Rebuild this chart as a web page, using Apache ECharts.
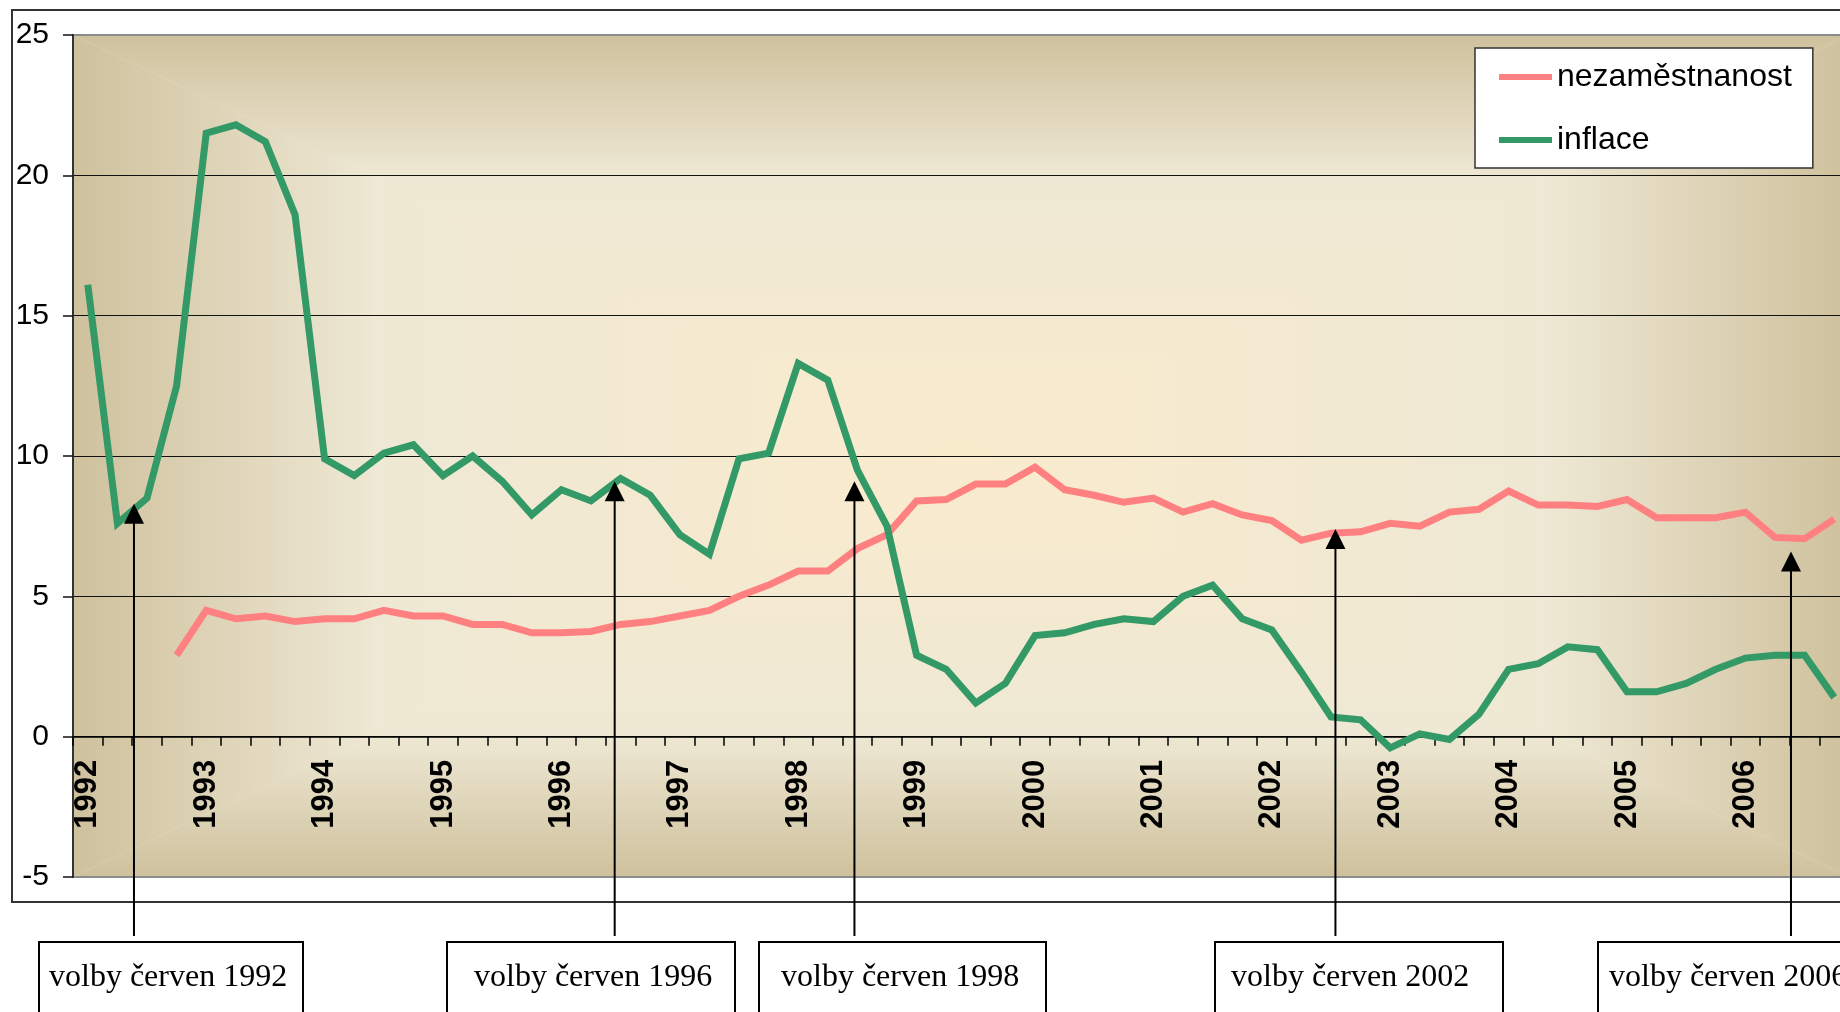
<!DOCTYPE html>
<html>
<head>
<meta charset="utf-8">
<title>nezaměstnanost a inflace</title>
<script src="https://cdn.jsdelivr.net/npm/echarts@6/dist/echarts.min.js"></script>
<style>
  html, body { margin: 0; padding: 0; background: #fff; overflow: hidden; }
  #chart { width: 1900px; height: 1012px; }
</style>
</head>
<body>
<div id="chart"></div>
<script>
  // roky a čtvrtletí na ose x
  const years = [1992, 1993, 1994, 1995, 1996, 1997, 1998, 1999, 2000, 2001, 2002, 2003, 2004, 2005, 2006];
  const quarters = ['Q1', 'Q2', 'Q3', 'Q4'];
  const categories = [];
  years.forEach(y => quarters.forEach(q => categories.push(y + ' ' + q)));

  // míra nezaměstnanosti (%), čtvrtletně
  const nezamestnanost = [
    null, null, null, 2.9,
    4.5, 4.2, 4.3, 4.1,
    4.2, 4.2, 4.5, 4.3,
    4.3, 4.0, 4.0, 3.7,
    3.7, 3.75, 4.0, 4.1,
    4.3, 4.5, 5.0, 5.4,
    5.9, 5.9, 6.7, 7.2,
    8.4, 8.45, 9.0, 9.0,
    9.6, 8.8, 8.6, 8.35,
    8.5, 8.0, 8.3, 7.9,
    7.7, 7.0, 7.25, 7.3,
    7.6, 7.5, 8.0, 8.1,
    8.75, 8.25, 8.25, 8.2,
    8.45, 7.8, 7.8, 7.8,
    8.0, 7.1, 7.05, 7.75
  ];

  // inflace (%), čtvrtletně
  const inflace = [
    16.1, 7.6, 8.5, 12.5,
    21.5, 21.8, 21.2, 18.6,
    9.9, 9.3, 10.1, 10.4,
    9.3, 10.0, 9.1, 7.9,
    8.8, 8.4, 9.2, 8.6,
    7.2, 6.5, 9.9, 10.1,
    13.3, 12.7, 9.5, 7.5,
    2.9, 2.4, 1.2, 1.9,
    3.6, 3.7, 4.0, 4.2,
    4.1, 5.0, 5.4, 4.2,
    3.8, 2.3, 0.7, 0.6,
    -0.4, 0.1, -0.1, 0.8,
    2.4, 2.6, 3.2, 3.1,
    1.6, 1.6, 1.9, 2.4,
    2.8, 2.9, 2.9, 1.4
  ];

  // osa y
  const yMin = -5, yMax = 25, yStep = 5;

  // volby: popisek, poloha na ose (index čtvrtletí) a hodnota hrotu šipky
  const volbyLabels = ['volby červen 1992', 'volby červen 1996', 'volby červen 1998', 'volby červen 2002', 'volby červen 2006'];
  const volbyPos = [1.56, 17.8, 25.9, 42.15, 57.54];
  const volbyTip = [8.3, 9.1, 9.1, 7.4, 6.6];

  // rozložení (px)
  const GRID = {left: 73, top: 35, width: 1776, height: 842};
  const boxLeft = [39, 447, 759, 1215, 1598];
  const boxWidth = [264, 288, 287, 288, 288];
  const boxTextLeft = [49, 474, 781, 1231, 1609];
  const boxTop = 942;
  const arrowBottom = 936;

  const SANS = '"Liberation Sans", Arial, sans-serif';
  const SERIF = '"Liberation Serif", "Times New Roman", serif';

  // osa x leží na nule: posun od spodního okraje plochy
  const zeroOffset = -(0 - yMin) / (yMax - yMin) * GRID.height;

  const chart = echarts.init(document.getElementById('chart'));

  chart.setOption({
    animation: false,
    backgroundColor: '#fff',
    grid: {
      left: GRID.left, top: GRID.top, width: GRID.width, height: GRID.height,
      show: true, borderColor: '#8c8c8c', borderWidth: 2,
      backgroundColor: 'transparent',
      containLabel: false, outerBoundsMode: 'none'
    },
    legend: {
      orient: 'vertical',
      left: 1475, top: 48,
      padding: [13, 21, 12, 24],
      itemGap: 31,
      itemWidth: 53, itemHeight: 6,
      icon: 'rect',
      backgroundColor: '#fff',
      borderColor: '#333', borderWidth: 1.5, borderRadius: 0,
      textStyle: {fontSize: 32, lineHeight: 32, color: '#000', fontFamily: SANS},
      data: ['nezaměstnanost', 'inflace']
    },
    xAxis: {
      type: 'category',
      data: categories,
      boundaryGap: true,
      position: 'bottom',
      offset: zeroOffset,
      axisLine: {show: true, onZero: false, lineStyle: {color: '#000', width: 1.5}},
      axisTick: {show: true, interval: 0, length: 9, lineStyle: {color: '#000', width: 1.5}},
      axisLabel: {
        interval: 3, rotate: 90, margin: 23,
        fontSize: 31, fontWeight: 'bold', color: '#000', fontFamily: SANS,
        formatter: v => v.slice(0, 4)
      },
      splitLine: {show: false}
    },
    yAxis: {
      type: 'value',
      min: yMin, max: yMax, interval: yStep,
      axisLine: {show: true, lineStyle: {color: '#333', width: 2}},
      axisTick: {show: true, length: 10, lineStyle: {color: '#111', width: 1.5}},
      axisLabel: {margin: 24, fontSize: 30, color: '#000', fontFamily: SANS},
      splitLine: {
        show: true,
        lineStyle: {color: ['#8c8c8c', '#111', '#111', '#111', '#111', '#111', '#8c8c8c'], width: 1}
      }
    },
    series: [
      {
        name: 'nezaměstnanost',
        type: 'line',
        data: nezamestnanost,
        color: '#FF8080',
        itemStyle: {color: '#FF8080'},
        lineStyle: {color: '#FF8080', width: 7, join: 'miter'},
        showSymbol: false, symbol: 'none',
        connectNulls: false,
        z: 3
      },
      {
        name: 'inflace',
        type: 'line',
        data: inflace,
        color: '#339966',
        itemStyle: {color: '#339966'},
        lineStyle: {color: '#339966', width: 7, join: 'miter'},
        showSymbol: false, symbol: 'none',
        z: 4
      }
    ]
  });

  // pozadí plochy grafu: obdélníkový přechod od středu
  const L = GRID.left, T = GRID.top, R = GRID.left + GRID.width, B = GRID.top + GRID.height;
  const cx = (L + R) / 2, cy = (T + B) / 2;
  const stops = [
    {offset: 0, color: '#CFC19D'},
    {offset: 0.34, color: '#EEE8D4'},
    {offset: 1, color: '#FAEBCD'}
  ];
  const grad = (x, y, x2, y2) => ({type: 'linear', x: x, y: y, x2: x2, y2: y2, colorStops: stops});

  const elements = [
    {type: 'rect', z: -6, silent: true, shape: {x: 12, y: 10, width: 1900, height: 892},
      style: {fill: 'transparent', stroke: '#333', lineWidth: 2}},
    {type: 'rect', z: -5, silent: true, shape: {x: L, y: T, width: GRID.width, height: GRID.height},
      style: {fill: '#F2E9D2'}},
    {type: 'polygon', z: -4, silent: true, shape: {points: [[L, T], [R, T], [cx, cy]]}, style: {fill: grad(0, 0, 0, 1)}},
    {type: 'polygon', z: -4, silent: true, shape: {points: [[L, B], [R, B], [cx, cy]]}, style: {fill: grad(0, 1, 0, 0)}},
    {type: 'polygon', z: -4, silent: true, shape: {points: [[L, T], [L, B], [cx, cy]]}, style: {fill: grad(0, 0, 1, 0)}},
    {type: 'polygon', z: -4, silent: true, shape: {points: [[R, T], [R, B], [cx, cy]]}, style: {fill: grad(1, 0, 0, 0)}}
  ];

  // poloha na kategoriové ose s desetinným indexem
  function toPixel(pos, val) {
    const i0 = Math.floor(pos), f = pos - i0;
    const a = chart.convertToPixel({gridIndex: 0}, [i0, val]);
    const b = chart.convertToPixel({gridIndex: 0}, [i0 + 1, val]);
    return [a[0] + (b[0] - a[0]) * f, a[1]];
  }

  volbyLabels.forEach((label, k) => {
    const p = toPixel(volbyPos[k], volbyTip[k]);
    const x = p[0], tipY = p[1];
    elements.push({
      type: 'line', z: 50, silent: true,
      shape: {x1: x, y1: arrowBottom, x2: x, y2: tipY + 18},
      style: {stroke: '#000', lineWidth: 2}
    });
    elements.push({
      type: 'polygon', z: 50, silent: true,
      shape: {points: [[x, tipY], [x - 10, tipY + 20], [x + 10, tipY + 20]]},
      style: {fill: '#000'}
    });
    elements.push({
      type: 'rect', z: 50, silent: true,
      shape: {x: boxLeft[k], y: boxTop, width: boxWidth[k], height: 120},
      style: {fill: '#fff', stroke: '#000', lineWidth: 2}
    });
    elements.push({
      type: 'text', z: 51, silent: true,
      style: {
        text: label, x: boxTextLeft[k], y: 978,
        font: '32px ' + SERIF, fill: '#000',
        textAlign: 'left', textVerticalAlign: 'middle', verticalAlign: 'middle'
      }
    });
  });

  chart.setOption({graphic: {elements: elements}});
</script>
</body>
</html>
